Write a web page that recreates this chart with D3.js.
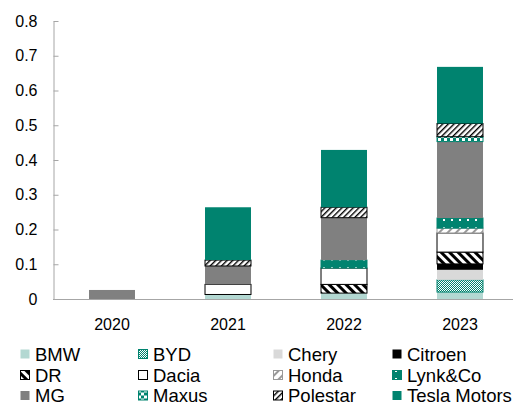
<!DOCTYPE html>
<html>
<head>
<meta charset="utf-8">
<script src="https://cdn.jsdelivr.net/npm/d3@7"></script>
<style>
  body { margin: 0; background: #fff; }
  svg { display: block; font-family: "Liberation Sans", Arial, sans-serif; }
</style>
</head>
<body>
<svg id="chart" width="513" height="405"></svg>
<script>
// data (share, stacked per year)
const years = ["2020", "2021", "2022", "2023"];
const brands = ["BMW", "BYD", "Chery", "Citroen", "DR", "Dacia", "Honda", "Lynk&Co", "MG", "Maxus", "Polestar", "Tesla Motors"];

const bmw      = [0,     0.013, 0.017, 0.020];
const byd      = [0,     0,     0,     0.035];
const chery    = [0,     0,     0,     0.029];
const citroen  = [0,     0,     0,     0.017];
const dr       = [0,     0,     0.025, 0.034];
const dacia    = [0,     0.029, 0.047, 0.055];
const honda    = [0,     0,     0,     0.014];
const lynk     = [0,     0,     0.023, 0.029];
const mg       = [0.026, 0.053, 0.122, 0.220];
const maxus    = [0,     0,     0,     0.014];
const polestar = [0,     0.017, 0.030, 0.038];
const tesla    = [0,     0.152, 0.165, 0.163];

const yTicks = [0, 0.1, 0.2, 0.3, 0.4, 0.5, 0.6, 0.7, 0.8];

const series = [bmw, byd, chery, citroen, dr, dacia, honda, lynk, mg, maxus, polestar, tesla];
const table = years.map((y, i) => {
  const row = { year: y };
  brands.forEach((b, j) => { row[b] = series[j][i]; });
  return row;
});

const teal = "#00836f";

const svg = d3.select("#chart");
const defs = svg.append("defs");

// patterns for the hatched / dotted fills
function pat(id, w, h, rot) {
  const p = defs.append("pattern")
    .attr("id", id)
    .attr("patternUnits", "userSpaceOnUse")
    .attr("width", w).attr("height", h);
  if (rot) p.attr("patternTransform", "rotate(" + rot + ")");
  return p;
}

let p = pat("p-byd", 2, 2);
p.append("rect").attr("width", 2).attr("height", 2).attr("fill", teal);
p.append("rect").attr("width", 1).attr("height", 1).attr("fill", "#fff");
p.append("rect").attr("x", 1).attr("y", 1).attr("width", 1).attr("height", 1).attr("fill", "#fff");

p = pat("p-dr", 6, 6, -45);
p.append("rect").attr("width", 6).attr("height", 6).attr("fill", "#fff");
p.append("rect").attr("width", 3).attr("height", 6).attr("fill", "#000");

p = pat("p-honda", 6, 6, 45);
p.append("rect").attr("width", 6).attr("height", 6).attr("fill", "#fff");
p.append("rect").attr("width", 2).attr("height", 6).attr("fill", "#999");

p = pat("p-lynk", 8, 8);
p.append("rect").attr("width", 8).attr("height", 8).attr("fill", teal);
p.append("rect").attr("x", 3).attr("y", 3).attr("width", 2).attr("height", 2).attr("fill", "#fff");

p = pat("p-maxus", 6, 6);
p.append("rect").attr("width", 6).attr("height", 6).attr("fill", teal);
p.append("rect").attr("width", 3).attr("height", 3).attr("fill", "#fff");
p.append("rect").attr("x", 3).attr("y", 3).attr("width", 3).attr("height", 3).attr("fill", "#fff");

p = pat("p-polestar", 4, 4, 45);
p.append("rect").attr("width", 4).attr("height", 4).attr("fill", "#fff");
p.append("rect").attr("width", 1.4).attr("height", 4).attr("fill", "#000");

const fills = {
  "BMW": "#b3d8d2", "BYD": "url(#p-byd)", "Chery": "#d9d9d9", "Citroen": "#000",
  "DR": "url(#p-dr)", "Dacia": "#fff", "Honda": "url(#p-honda)", "Lynk&Co": "url(#p-lynk)",
  "MG": "#808080", "Maxus": "url(#p-maxus)", "Polestar": "url(#p-polestar)", "Tesla Motors": teal
};
const strokes = {
  "BYD": teal, "DR": "#000", "Dacia": "#000", "Honda": "#999",
  "Lynk&Co": teal, "Maxus": teal, "Polestar": "#000"
};

const x = d3.scaleBand().domain(years).range([54, 518]).paddingInner(0.595).paddingOuter(0.2975);
const y = d3.scaleLinear().domain([0, 0.8]).range([299, 21]);

const stacked = d3.stack().keys(brands)(table);

svg.append("g").selectAll("g")
  .data(stacked)
  .join("g")
  .attr("fill", d => fills[d.key])
  .attr("stroke", d => strokes[d.key] || "none")
  .attr("stroke-width", 1)
  .selectAll("rect")
  .data(d => d.filter(s => s[1] - s[0] > 0))
  .join("rect")
  .attr("x", d => x(d.data.year) + 0.5)
  .attr("width", x.bandwidth() - 1)
  .attr("y", d => y(d[1]))
  .attr("height", d => y(d[0]) - y(d[1]));

// y axis, ticks pointing inward
const yAxis = svg.append("g")
  .attr("transform", "translate(53.5,0)")
  .call(d3.axisLeft(y).tickValues(yTicks).tickSizeInner(-5).tickSizeOuter(0).tickPadding(16)
    .tickFormat(d => d === 0 ? "0" : d3.format(".1f")(d)));
yAxis.select(".domain").attr("stroke", "#a6a6a6");
yAxis.selectAll(".tick line").attr("stroke", "#a6a6a6");
yAxis.selectAll("text").attr("font-size", 16).attr("fill", "#000").attr("font-family", null);

// x axis
const xAxis = svg.append("g")
  .attr("transform", "translate(0,299.5)")
  .call(d3.axisBottom(x).tickSize(0).tickSizeOuter(0).tickPadding(19));
xAxis.select(".domain").attr("stroke", "#a6a6a6").attr("d", "M53,0H513");
xAxis.selectAll("text").attr("font-size", 16).attr("fill", "#000").attr("font-family", null);

// legend, 4 columns x 3 rows
const colX = [20, 138, 273, 392];
const rowY = [354, 375, 395.5];
const leg = svg.append("g").selectAll("g")
  .data(brands)
  .join("g")
  .attr("transform", (d, i) => "translate(" + colX[i % 4] + "," + rowY[Math.floor(i / 4)] + ")");
leg.append("rect")
  .attr("x", 0.5).attr("y", -4.5)
  .attr("width", 9).attr("height", 9)
  .attr("fill", d => fills[d])
  .attr("stroke", d => strokes[d] || "none");
leg.append("text")
  .attr("x", 15)
  .attr("dy", "0.36em")
  .attr("font-size", 18.5)
  .text(d => d);
</script>
</body>
</html>
